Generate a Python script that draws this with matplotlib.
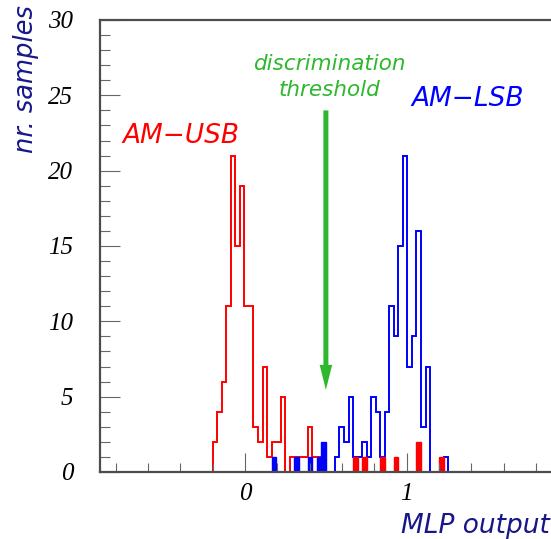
import numpy as np
import matplotlib
matplotlib.use('Agg')
import matplotlib.pyplot as plt
from matplotlib.ticker import MultipleLocator

# 100 bins between -0.9 and 1.9
edges = np.linspace(-0.9, 1.9, 101)
bin_w = edges[1] - edges[0]
centers = (edges[:-1] + edges[1:]) / 2

# AM-USB outline, bins 25..49
usb_counts = [2, 4, 6, 11, 21, 15, 19, 11, 11, 3, 2, 7, 1, 2, 2, 5, 0, 1, 1, 1, 1, 3, 1, 1, 1]
usb_first = 25
# AM-LSB outline, bins 52..76
lsb_counts = [1, 3, 2, 5, 1, 1, 2, 1, 5, 4, 1, 4, 11, 9, 15, 21, 7, 9, 16, 3, 7, 0, 0, 0, 1]
lsb_first = 52
# samples on the wrong side of the threshold (filled)
lsb_low_bins = [38, 43, 46, 48, 49]
lsb_low_counts = [1, 1, 1, 1, 2]
usb_high_bins = [56, 58, 62, 65, 70, 75]
usb_high_counts = [1, 1, 1, 1, 2, 1]

threshold = 0.5
green = '#2db82d'
navy = '#17178a'

plt.rcParams['font.family'] = 'Liberation Serif'
plt.rcParams['font.style'] = 'italic'

fig = plt.figure(figsize=(5.51, 5.39), dpi=100)
ax = fig.add_axes([99.5 / 551, 67 / 539, 452.8 / 551, 452 / 539])

ax.stairs(usb_counts, edges[usb_first:usb_first + len(usb_counts) + 1], color='red', lw=1.4)
ax.stairs(lsb_counts, edges[lsb_first:lsb_first + len(lsb_counts) + 1], color='blue', lw=1.4)
ax.bar(centers[lsb_low_bins], lsb_low_counts, width=bin_w, color='blue', edgecolor='blue', lw=1.0)
ax.bar(centers[usb_high_bins], usb_high_counts, width=bin_w, color='red', edgecolor='red', lw=1.0)

ax.set_xlim(-0.9, 1.9)
ax.set_ylim(0, 30)
ax.xaxis.set_major_locator(MultipleLocator(1))
ax.xaxis.set_minor_locator(MultipleLocator(0.2))
ax.yaxis.set_major_locator(MultipleLocator(5))
ax.yaxis.set_minor_locator(MultipleLocator(1))
ax.tick_params(which='both', direction='in', top=False, right=False, color='0.4', width=0.8, labelsize=18)
ax.tick_params(axis='x', which='major', length=13.7, pad=8)
ax.tick_params(axis='x', which='minor', length=6.5)
ax.tick_params(axis='y', which='major', length=14.4, pad=19)
ax.tick_params(axis='y', which='minor', length=7.2)
ax.spines['right'].set_visible(False)
for s in ['left', 'bottom', 'top']:
    ax.spines[s].set_color('0.3')
    ax.spines[s].set_linewidth(1.6)

sans = dict(family='DejaVu Sans', style='italic')
ax.text(-0.396, 22.3, 'AM\u2212USB', color='red', fontsize=19, ha='center', va='center', **sans)
ax.text(1.376, 24.75, 'AM\u2212LSB', color='blue', fontsize=19, ha='center', va='center', **sans)
ax.text(0.52, 26.2, 'discrimination\nthreshold', color=green, fontsize=15.5, ha='center', va='center',
        multialignment='center', linespacing=1.35, **sans)
ax.annotate('', xy=(threshold, 5.45), xytext=(threshold, 24.0),
            arrowprops=dict(arrowstyle='simple,head_length=1.0,head_width=0.5,tail_width=0.2',
                            mutation_scale=18, color=green, lw=0, shrinkA=0, shrinkB=0))

fig.text(26 / 551, 1 - 5 / 539, 'nr. samples', rotation=90, ha='center', va='top', color=navy,
         fontsize=18.5, **sans)
fig.text(1 - 1 / 551, 6 / 539, 'MLP output', ha='right', va='baseline', color=navy, fontsize=19, **sans)

fig.savefig('out.png', dpi=100)
